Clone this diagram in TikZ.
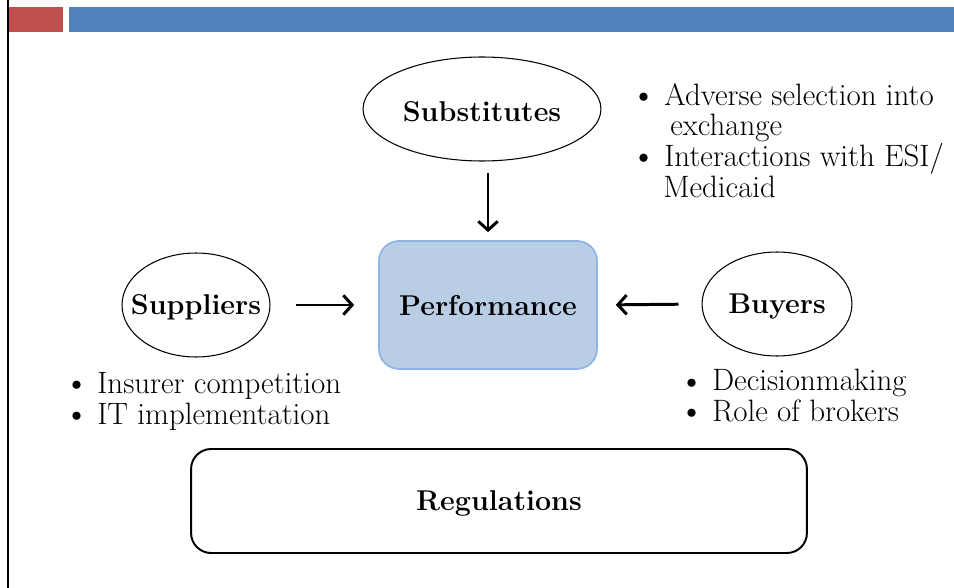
\documentclass[tikz,border=0pt]{standalone}
\usepackage{xcolor}
\usepackage{tikz}
\usetikzlibrary{arrows.meta, shapes.geometric, positioning}
\definecolor{SlideRed} {HTML}{C0504D}
\definecolor{SlideBlue}{HTML}{4F81BD}
\definecolor{PerfFill} {HTML}{B9CDE5}
\definecolor{PerfEdge} {HTML}{8EB4E3}
\tikzset{
  force arrow/.style={-{Straight Barb[length=5pt,width=11pt]}, line width=1.7pt},
}
% bullet for the note lists
\newcommand{\notebullet}{\makebox[0.52cm][l]{\raisebox{1.6pt}{\fontsize{12.5}{12}\selectfont$\bullet$}}}

\begin{document}
\begin{tikzpicture}[x=0.02cm, y=-0.02cm,
    font=\fontsize{17.6}{17.5}\selectfont,
    head/.style={font=\fontsize{16.3}{18}\selectfont\bfseries, text depth=0pt},
    oval/.style={draw, ellipse, line width=0.6pt, inner sep=0pt,
                 minimum height=2.08cm},
    perfbox/.style={draw=PerfEdge, fill=PerfFill, line width=1pt,
                    rounded corners=0.4cm, minimum width=4.36cm,
                    minimum height=2.56cm, inner sep=0pt, head},
    regbox/.style={draw, line width=1.1pt, rounded corners=0.4cm,
                   minimum width=12.32cm, minimum height=2.08cm, inner sep=0pt, head},
    bullets/.style={align=left, inner sep=0pt, anchor=north west}]
  \path[use as bounding box] (0,0) rectangle (954,588);
  % Slide frame
  \fill[SlideRed]  (9,7)  rectangle (63,32);
  \fill[SlideBlue] (69,7) rectangle (954,32);
  \draw[line width=1.5pt] (8,0) -- (8,588);
  % Nodes
  \node[oval, minimum width=4.76cm, label={[head, yshift=-0.05cm]center:Substitutes}] (subst)  at (482,109) {};
  \node[oval, minimum width=2.96cm, label={[head]center:Suppliers}] (supp)   at (196,305) {};
  \node[oval, minimum width=3.00cm, label={[head]center:Buyers}]    (buyers) at (777,304) {};
  \node[perfbox] (perf) at (488,305) {Performance};
  \node[regbox]  (reg)  at (499,501) {Regulations};
  % Arrows
  \draw[force arrow, shorten <=0.22cm, shorten >=0.16cm] (perf.north |- subst.south) -- (perf.north);
  \draw[force arrow, shorten <=0.50cm, shorten >=0.48cm] (supp.east)   -- (perf.west);
  \draw[force arrow, shorten <=0.46cm, shorten >=0.36cm] (buyers.west) -- (perf.east);
  % Notes
  \node[bullets] (substnotes) at (638,83)
    {\notebullet Adverse selection into\\\hspace*{0.64cm}exchange\\
     \notebullet Interactions with ESI/\\\hspace*{0.50cm}Medicaid};
  \node[bullets] (suppnotes) at (71,372)
    {\notebullet Insurer competition\\
     \notebullet IT implementation};
  \node[bullets] (buynotes) at (686,369)
    {\notebullet Decisionmaking\\
     \notebullet Role of brokers};
\end{tikzpicture}
\end{document}
